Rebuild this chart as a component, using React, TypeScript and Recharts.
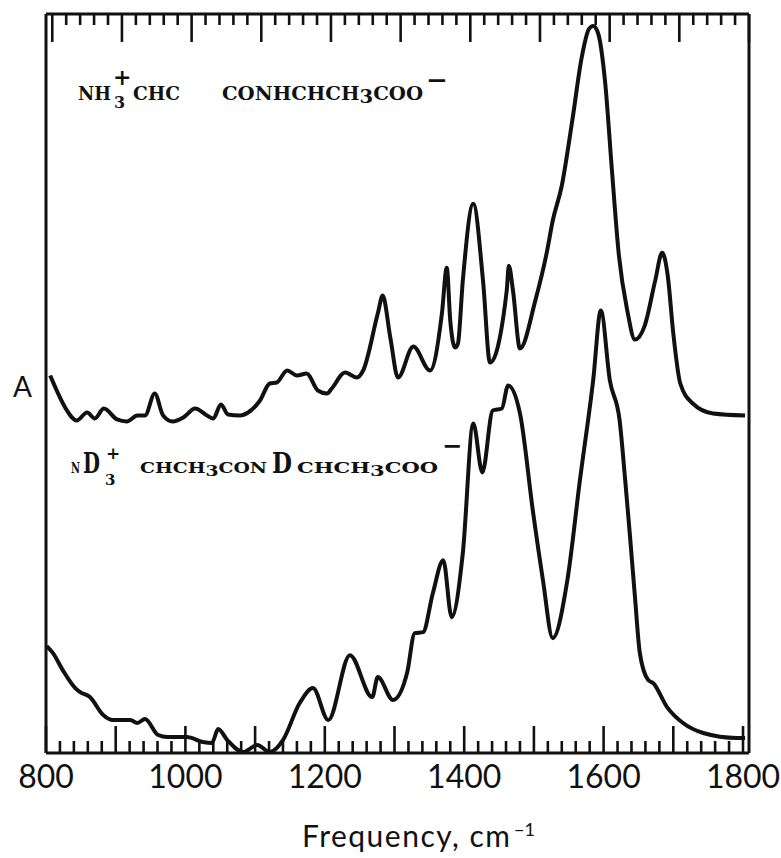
import { LineChart, Line, XAxis, YAxis, ReferenceLine } from 'recharts';

// upper trace: NH3+ CHCH3CONHCHCH3COO-  (absorbance, arbitrary units)
const upperFreq = [
  806, 820, 830, 844, 859, 870, 883, 902, 916, 931,
  942, 956, 968, 982, 997, 1014, 1031, 1040, 1051, 1061,
  1078, 1090, 1107, 1121, 1131, 1146, 1160, 1174, 1190, 1203,
  1210, 1229, 1246, 1255, 1276, 1283, 1294, 1305, 1327, 1351,
  1368, 1375, 1380, 1387, 1391, 1398, 1413, 1427, 1437, 1461,
  1464, 1470, 1480, 1502, 1519, 1527, 1540, 1555, 1569, 1579,
  1585, 1592, 1602, 1612, 1622, 1634, 1645, 1659, 1674, 1684,
  1692, 1700, 1710, 1728, 1757, 1803,
];
const upperAbs = [
  378, 356, 343, 333, 341, 335, 345, 334, 332, 338,
  338, 360, 338, 332, 336, 345, 338, 335, 349, 339,
  338, 341, 353, 370, 371, 383, 378, 380, 363, 360,
  365, 381, 376, 383, 440, 458, 416, 376, 407, 383,
  440, 486, 433, 406, 410, 473, 550, 473, 391, 463,
  488, 463, 405, 453, 503, 533, 568, 633, 698, 725,
  728, 721, 673, 583, 498, 443, 414, 428, 473, 501,
  478, 420, 370, 350, 340, 338,
];

// lower trace: ND3+ CHCH3CONDCHCH3COO-
const lowerFreq = [
  801, 810, 824, 842, 849, 863, 882, 896, 921, 931,
  942, 961, 974, 1002, 1025, 1038, 1047, 1060, 1083, 1103,
  1121, 1140, 1164, 1183, 1205, 1236, 1268, 1276, 1298, 1318,
  1329, 1341, 1355, 1370, 1382, 1398, 1413, 1426, 1441, 1454,
  1463, 1480, 1499, 1513, 1527, 1548, 1566, 1585, 1596, 1609,
  1623, 1631, 1638, 1645, 1652, 1664, 1671, 1691, 1714, 1743,
  1791, 1803,
];
const lowerAbs = [
  107, 100, 83, 65, 61, 56, 38, 33, 33, 30,
  34, 18, 16, 16, 11, 10, 24, 13, 1, 8,
  1, 13, 50, 65, 33, 98, 56, 76, 53, 80,
  120, 121, 160, 193, 136, 200, 330, 281, 343, 345,
  368, 340, 240, 173, 115, 173, 273, 373, 443, 373,
  333, 273, 216, 156, 100, 73, 70, 46, 30, 20,
  15, 15,
];

const tickLabels = [800, 1000, 1200, 1400, 1600, 1800];
const minorTicks = Array.from({ length: 51 }, (_, i) => 800 + i * 20);

const upperData = upperFreq.map((f, i) => ({ f, a: upperAbs[i] }));
const lowerData = lowerFreq.map((f, i) => ({ f, a: lowerAbs[i] }));

const INK = '#111';
const sans = 'Lato, "Open Sans", sans-serif';
const serif = '"DejaVu Serif", "Liberation Serif", serif';
const Y_MAX = 740;

const LabelTick = ({ x, y, payload }: any) =>
  tickLabels.includes(payload.value) ? (
    <text x={x} y={y + 35} textAnchor="middle" fontFamily={sans} fontSize={32} fill={INK}>{payload.value}</text>
  ) : <g />;

export default function App() {
  const txt = { fontFamily: serif, fontWeight: 700, fill: INK };
  const fit = 'spacingAndGlyphs';
  return (
    <div style={{ position: 'absolute', left: 0, top: 0, width: 781, height: 858, background: '#fff' }}>
      <LineChart width={781} height={858} margin={{ top: 13, left: 45, right: 31, bottom: 45 }}>
        <XAxis
          xAxisId="b" type="number" dataKey="f" domain={[800, 1808.6]} allowDataOverflow
          ticks={minorTicks} interval={0} tick={LabelTick} tickLine={false}
          tickSize={0} tickMargin={0} height={60}
          axisLine={{ stroke: INK, strokeWidth: 3 }}
        />
        <XAxis
          xAxisId="t" orientation="top" type="number" dataKey="f" domain={[791, 1800]} allowDataOverflow
          ticks={minorTicks} tick={false} tickLine={false} height={1}
          axisLine={{ stroke: INK, strokeWidth: 3 }}
        />
        <YAxis type="number" domain={[0, Y_MAX]} allowDataOverflow width={1} tick={false} tickLine={false}
          axisLine={{ stroke: INK, strokeWidth: 3 }} />
        <YAxis yAxisId="r" orientation="right" type="number" domain={[0, Y_MAX]} width={1} tick={false} tickLine={false}
          axisLine={{ stroke: INK, strokeWidth: 3 }} />

        {/* inward ticks, bottom and top */}
        {minorTicks.map((v) => (
          <ReferenceLine key={'b' + v} xAxisId="b" stroke={INK} strokeWidth={2.6} ifOverflow="visible"
            segment={[{ x: v, y: 0 }, { x: v, y: v % 100 === 0 ? 27 : 12 }]} />
        ))}
        {minorTicks.map((v) => (
          <ReferenceLine key={'t' + v} xAxisId="t" stroke={INK} strokeWidth={2.6} ifOverflow="visible"
            segment={[{ x: v, y: Y_MAX }, { x: v, y: Y_MAX - (v % 100 === 0 ? 28 : 11) }]} />
        ))}

        <Line xAxisId="b" data={upperData} dataKey="a" type="monotone" stroke={INK} strokeWidth={4}
          dot={false} isAnimationActive={false} />
        <Line xAxisId="b" data={lowerData} dataKey="a" type="monotone" stroke={INK} strokeWidth={4}
          dot={false} isAnimationActive={false} />
      </LineChart>

      <svg width={781} height={858} style={{ position: 'absolute', left: 0, top: 0, pointerEvents: 'none' }}>
        {/* upper formula, part of the print is missing */}
        <text x={78} y={100} fontSize={19} textLength={33} lengthAdjust={fit} {...txt}>NH</text>
        <text x={113} y={85} fontSize={22} {...txt}>+</text>
        <text x={114} y={108} fontSize={16} {...txt}>3</text>
        <text x={133} y={100} fontSize={19} textLength={47} lengthAdjust={fit} {...txt}>CHC</text>
        <text x={222} y={100} fontSize={19} textLength={201} lengthAdjust={fit} {...txt}>
          CONHCHCH<tspan dy={3}>3</tspan><tspan dy={-3}>COO</tspan>
        </text>
        <text x={426} y={89} fontSize={26} {...txt}>−</text>

        {/* lower formula */}
        <text x={71} y={473} fontSize={14} textLength={9} lengthAdjust={fit} {...txt}>N</text>
        <text x={83} y={473} fontSize={27} textLength={17} lengthAdjust={fit} {...txt}>D</text>
        <text x={106} y={459} fontSize={17} {...txt}>+</text>
        <text x={105} y={485} fontSize={15} {...txt}>3</text>
        <text x={140} y={473} fontSize={15} textLength={127} lengthAdjust={fit} {...txt}>
          CHCH<tspan dy={3}>3</tspan><tspan dy={-3}>CON</tspan>
        </text>
        <text x={272} y={473} fontSize={27} textLength={20} lengthAdjust={fit} {...txt}>D</text>
        <text x={297} y={473} fontSize={15} textLength={141} lengthAdjust={fit} {...txt}>
          CHCH<tspan dy={3}>3</tspan><tspan dy={-3}>COO</tspan>
        </text>
        <text x={442} y={454} fontSize={24} {...txt}>−</text>

        <text x={13} y={397} fontFamily={sans} fontSize={28} fill={INK}>A</text>

        <text x={302} y={847} fontFamily={sans} fontSize={30} fill={INK} textLength={208}>Frequency, cm</text>
        <text x={514} y={836} fontFamily={sans} fontSize={18} fill={INK}>−1</text>
      </svg>
    </div>
  );
}
